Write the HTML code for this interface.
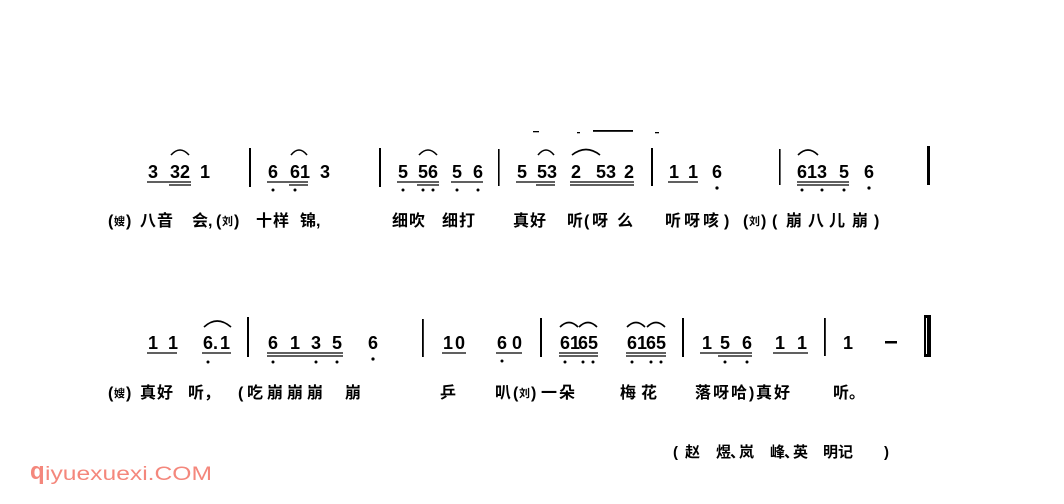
<!DOCTYPE html>
<html>
<head>
<meta charset="utf-8">
<style>
html,body{margin:0;padding:0;background:#fff;}
svg{display:block;}
.n{font-family:"Liberation Sans",sans-serif;font-weight:bold;font-size:18px;fill:#000;}
.l{font-family:"Liberation Sans","Noto Sans CJK SC",sans-serif;font-size:16px;font-weight:bold;fill:#000;}
.s{font-family:"Liberation Sans","Noto Sans CJK SC",sans-serif;font-size:11px;font-weight:bold;fill:#000;}
.c{font-family:"Liberation Sans","Noto Sans CJK SC",sans-serif;font-size:15px;font-weight:bold;fill:#000;}
.u{stroke:#000;stroke-width:1.3;}
.a{fill:none;stroke:#000;stroke-width:1.6;}
</style>
</head>
<body>
<svg width="1064" height="504" viewBox="0 0 1064 504" xmlns="http://www.w3.org/2000/svg">
<rect width="1064" height="504" fill="#fff"/>

<!-- stray marks top -->
<rect x="533" y="131" width="6" height="1.3" fill="#000"/>
<rect x="577" y="132" width="3" height="1.3" fill="#000"/>
<rect x="593" y="130" width="40" height="1.8" fill="#000"/>
<rect x="655" y="132" width="4" height="1.3" fill="#000"/>

<!-- ============ LINE 1 NOTES (baseline 178) ============ -->
<g class="n">
<text x="148" y="178">3</text>
<text x="170" y="178">3</text><text x="180" y="178">2</text>
<text x="200" y="178">1</text>

<text x="268" y="178">6</text>
<text x="290" y="178">6</text><text x="300" y="178">1</text>
<text x="320" y="178">3</text>

<text x="398" y="178">5</text>
<text x="418" y="178">5</text><text x="428" y="178">6</text>
<text x="452" y="178">5</text>
<text x="473" y="178">6</text>

<text x="517" y="178">5</text>
<text x="537" y="178">5</text><text x="547" y="178">3</text>
<text x="571" y="178">2</text>
<text x="596" y="178">5</text><text x="606" y="178">3</text>
<text x="624" y="178">2</text>

<text x="669" y="178">1</text>
<text x="688" y="178">1</text>
<text x="712" y="178">6</text>

<text x="797" y="178">6</text><text x="807" y="178">1</text><text x="817" y="178">3</text>
<text x="839" y="178">5</text>
<text x="864" y="178">6</text>
</g>

<!-- underlines line 1 -->
<g class="u">
<line x1="147" y1="182" x2="191" y2="182"/><line x1="169" y1="185" x2="191" y2="185"/>
<line x1="267" y1="182" x2="308" y2="182"/><line x1="289" y1="185" x2="308" y2="185"/>
<line x1="397" y1="182" x2="439" y2="182"/><line x1="417" y1="185" x2="439" y2="185"/>
<line x1="451" y1="182" x2="483" y2="182"/>
<line x1="516" y1="182" x2="555" y2="182"/><line x1="536" y1="185" x2="555" y2="185"/>
<line x1="570" y1="182" x2="634" y2="182"/><line x1="570" y1="185" x2="634" y2="185"/>
<line x1="668" y1="182" x2="698" y2="182"/>
<line x1="797" y1="182" x2="849" y2="182"/><line x1="797" y1="185" x2="849" y2="185"/>
</g>

<!-- dots line 1 -->
<g fill="#000">
<circle cx="273" cy="190" r="1.5"/><circle cx="295" cy="190" r="1.5"/>
<circle cx="403" cy="190" r="1.5"/><circle cx="423" cy="190" r="1.5"/><circle cx="433" cy="190" r="1.5"/>
<circle cx="457" cy="190" r="1.5"/><circle cx="478" cy="190" r="1.5"/>
<circle cx="717" cy="188" r="1.6"/>
<circle cx="802" cy="190" r="1.5"/><circle cx="822" cy="190" r="1.5"/><circle cx="844" cy="190" r="1.5"/>
<circle cx="869" cy="188" r="1.6"/>
</g>

<!-- arcs line 1 -->
<g class="a">
<path d="M171 155 Q180 145 189 155"/>
<path d="M291 155 Q299 145 307 155"/>
<path d="M419 155 Q428 145 437 155"/>
<path d="M538 155 Q546 145 554 155"/>
<path d="M572 155 Q586 144 600 155"/>
<path d="M798 155 Q808 145 818 155"/>
</g>

<!-- barlines line 1 -->
<g fill="#000">
<rect x="249" y="148" width="2" height="39"/>
<rect x="379" y="148" width="2" height="39"/>
<rect x="498" y="149" width="1.6" height="37"/>
<rect x="651" y="148" width="2" height="38"/>
<rect x="779" y="149" width="1.6" height="36"/>
<rect x="927" y="146" width="3" height="39"/>
</g>

<!-- ============ LINE 1 LYRICS (baseline 226) ============ -->
<g class="l">
<text x="108" y="226">(</text><text class="s" x="114" y="225">嫂</text><text x="126" y="226">)</text>
<text x="140" y="226">八</text><text x="157" y="226">音</text>
<text x="192" y="226">会</text><text x="208" y="226">,</text>
<text x="216" y="226">(</text><text class="s" x="222" y="225">刘</text><text x="234" y="226">)</text>
<text x="256" y="226">十</text><text x="273" y="226">样</text>
<text x="300" y="226">锦</text><text x="316" y="226">,</text>

<text x="392" y="226">细</text><text x="409" y="226">吹</text>
<text x="442" y="226">细</text><text x="459" y="226">打</text>
<text x="513" y="226">真</text><text x="530" y="226">好</text>
<text x="567" y="226">听</text><text x="584" y="226">(</text><text x="592" y="226">呀</text><text x="617" y="226">么</text>
<text x="665" y="226">听</text><text x="684" y="226">呀</text><text x="703" y="226">咳</text><text x="724" y="226">)</text>
<text x="743" y="226">(</text><text class="s" x="749" y="225">刘</text><text x="761" y="226">)</text>
<text x="772" y="226">(</text><text x="786" y="226">崩</text><text x="808" y="226">八</text><text x="829" y="226">儿</text><text x="852" y="226">崩</text><text x="874" y="226">)</text>
</g>

<!-- ============ LINE 2 NOTES (baseline 349) ============ -->
<g class="n">
<text x="148" y="349">1</text>
<text x="168" y="349">1</text>
<text x="203" y="349">6</text><text x="213" y="349">.</text><text x="220" y="349">1</text>

<text x="268" y="349">6</text>
<text x="290" y="349">1</text>
<text x="311" y="349">3</text>
<text x="332" y="349">5</text>
<text x="368" y="349">6</text>

<text x="443" y="349">1</text>
<text x="455" y="349">0</text>
<text x="497" y="349">6</text>
<text x="512" y="349">0</text>

<text x="560" y="349">6</text><text x="570" y="349">1</text><text x="578" y="349">6</text><text x="588" y="349">5</text>
<text x="627" y="349">6</text><text x="637" y="349">1</text><text x="646" y="349">6</text><text x="656" y="349">5</text>

<text x="702" y="349">1</text>
<text x="720" y="349">5</text>
<text x="742" y="349">6</text>
<text x="775" y="349">1</text>
<text x="797" y="349">1</text>

<text x="843" y="349">1</text>
</g>
<rect x="885" y="341" width="12" height="2.5" fill="#000"/>

<!-- underlines line 2 -->
<g class="u">
<line x1="147" y1="353" x2="177" y2="353"/>
<line x1="202" y1="353" x2="231" y2="353"/>
<line x1="267" y1="353" x2="343" y2="353"/><line x1="267" y1="356" x2="343" y2="356"/>
<line x1="442" y1="353" x2="466" y2="353"/>
<line x1="496" y1="353" x2="522" y2="353"/>
<line x1="559" y1="353" x2="598" y2="353"/><line x1="559" y1="356" x2="598" y2="356"/>
<line x1="626" y1="353" x2="666" y2="353"/><line x1="626" y1="356" x2="666" y2="356"/>
<line x1="700" y1="353" x2="752" y2="353"/><line x1="718" y1="356" x2="752" y2="356"/>
<line x1="773" y1="353" x2="808" y2="353"/>
</g>

<!-- dots line 2 -->
<g fill="#000">
<circle cx="208" cy="362" r="1.5"/>
<circle cx="273" cy="362" r="1.5"/><circle cx="316" cy="362" r="1.5"/><circle cx="337" cy="362" r="1.5"/>
<circle cx="373" cy="359" r="1.6"/>
<circle cx="502" cy="361" r="1.5"/>
<circle cx="565" cy="362" r="1.5"/><circle cx="583" cy="362" r="1.5"/><circle cx="593" cy="362" r="1.5"/>
<circle cx="632" cy="362" r="1.5"/><circle cx="651" cy="362" r="1.5"/><circle cx="661" cy="362" r="1.5"/>
<circle cx="725" cy="362" r="1.5"/><circle cx="747" cy="362" r="1.5"/>
</g>

<!-- arcs line 2 -->
<g class="a">
<path d="M204 327 Q217 315 231 327"/>
<path d="M560 327 Q569 318 578 327"/>
<path d="M579 327 Q588 318 597 327"/>
<path d="M627 327 Q636 318 645 327"/>
<path d="M647 327 Q656 318 665 327"/>
</g>

<!-- barlines line 2 -->
<g fill="#000">
<rect x="247" y="317" width="2" height="40"/>
<rect x="422" y="319" width="1.8" height="38"/>
<rect x="540" y="318" width="2" height="39"/>
<rect x="682" y="318" width="2" height="39"/>
<rect x="824" y="318" width="1.8" height="38"/>
<rect x="924" y="315" width="7" height="42"/>
</g>
<rect x="926" y="318" width="1" height="36" fill="#fff"/>

<!-- ============ LINE 2 LYRICS (baseline 398) ============ -->
<g class="l">
<text x="108" y="398">(</text><text class="s" x="114" y="397">嫂</text><text x="126" y="398">)</text>
<text x="140" y="398">真</text><text x="157" y="398">好</text>
<text x="188" y="398">听</text><text x="204" y="398">，</text>
<text x="238" y="398">(</text><text x="247" y="398">吃</text><text x="267" y="398">崩</text><text x="287" y="398">崩</text><text x="307" y="398">崩</text>
<text x="345" y="398">崩</text>
<text x="440" y="398">乒</text>
<text x="495" y="398">叭</text>
<text x="513" y="398">(</text><text class="s" x="519" y="397">刘</text><text x="531" y="398">)</text>
<text x="541" y="398">一</text><text x="559" y="398">朵</text>
<text x="620" y="398">梅</text><text x="641" y="398">花</text>
<text x="695" y="398">落</text><text x="713" y="398">呀</text><text x="731" y="398">哈</text><text x="749" y="398">)</text><text x="756" y="398">真</text><text x="774" y="398">好</text>
<text x="833" y="398">听</text><text x="849" y="398">。</text>
</g>

<!-- credits -->
<g class="c">
<text x="673" y="457">(</text>
<text x="685" y="457">赵</text>
<text x="716" y="457">煜</text><text x="730" y="457">、</text>
<text x="739" y="457">岚</text>
<text x="770" y="457">峰</text><text x="784" y="457">、</text>
<text x="793" y="457">英</text>
<text x="823" y="457">明</text><text x="838" y="457">记</text>
<text x="884" y="457">)</text>
</g>

<!-- watermark -->
<text x="30" y="479" font-family="Liberation Sans, sans-serif" font-weight="bold" font-size="24" fill="#f4877c">q</text>
<text x="45" y="480" font-family="Liberation Sans, sans-serif" font-size="19" fill="#f4877c" textLength="167" lengthAdjust="spacingAndGlyphs">iyuexuexi.COM</text>
</svg>
</body>
</html>
